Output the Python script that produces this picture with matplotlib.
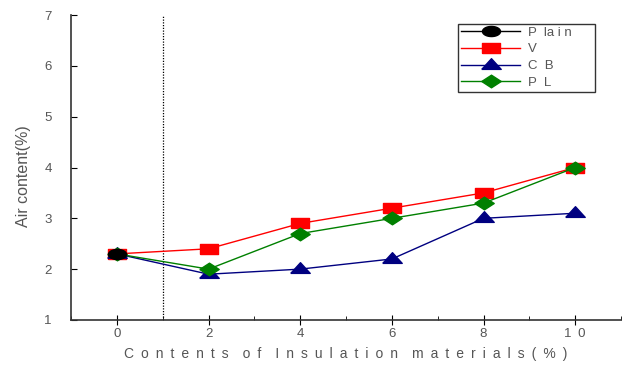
import matplotlib
matplotlib.use("Agg")
import matplotlib.pyplot as plt
import numpy as np
from matplotlib.path import Path
from matplotlib.ticker import MultipleLocator

plt.rcParams['font.family'] = ['Liberation Sans', 'DejaVu Sans']

x_plain = [0]
plain = [2.3]
x_series = [0, 2, 4, 6, 8, 10]
v = [2.3, 2.4, 2.9, 3.2, 3.5, 4.0]
cb = [2.3, 1.9, 2.0, 2.2, 3.0, 3.1]
pl = [2.3, 2.0, 2.7, 3.0, 3.3, 4.0]
xtick_labels = ["0", "2", "4", "6", "8", "1\u20020"]
yticks = [1, 2, 3, 4, 5, 6, 7]
legend_labels = ["P  la i n\u2002\u2002\u2002", "V", "C  B", "P  L"]


def spaced(text, gap="\u2002"):
    words = text.split(" ")
    return (gap * 2).join(gap.join(w) for w in words)


xlabel = spaced("Contents of Insulation materials(%)")

# horizontally stretched marker shapes
t = np.linspace(0, 2 * np.pi, 40)
ellipse = Path(np.column_stack([np.cos(t), 0.56 * np.sin(t)]))
rect = Path([(-1, -0.53), (1, -0.53), (1, 0.53), (-1, 0.53), (-1, -0.53)])
tri = Path([(-1, -0.4), (1, -0.4), (0, 0.7), (-1, -0.4)])
diam = Path([(-1, 0), (0, -0.65), (1, 0), (0, 0.65), (-1, 0)])

fig = plt.figure(figsize=(6.35, 3.69), dpi=100)
ax = fig.add_axes([0.112, 0.133, 0.866, 0.826])

h_v, = ax.plot(x_series, v, color="red", marker=rect, markersize=12.5, lw=1, zorder=3)
h_cb, = ax.plot(x_series, cb, color="navy", marker=tri, markersize=14, lw=1, zorder=3)
h_pl, = ax.plot(x_series, pl, color="green", marker=diam, markersize=14, lw=1, zorder=4)
h_p, = ax.plot(x_plain, plain, color="black", marker=ellipse, markersize=13, lw=1, zorder=5)

ax.axvline(1, color="black", lw=0.9, ls=(0, (1, 1.2)))

ax.set_xlim(-1, 11)
ax.set_ylim(1, 7)
ax.set_xticks(x_series)
ax.set_xticklabels(xtick_labels)
ax.xaxis.set_minor_locator(MultipleLocator(1))
ax.set_yticks(yticks)
ax.spines["top"].set_visible(False)
ax.spines["right"].set_visible(False)
for s in ("left", "bottom"):
    ax.spines[s].set_linewidth(1.2)
    ax.spines[s].set_color("#333333")
ax.tick_params(axis="x", which="major", direction="inout", length=7, labelsize=9.5,
               labelcolor="#555555", pad=2)
ax.tick_params(axis="x", which="minor", direction="in", length=3)
ax.tick_params(axis="y", direction="in", length=4, labelsize=9.5, labelcolor="#555555", pad=14)

ax.set_xlabel(xlabel, fontsize=10, color="#555555", labelpad=5)
ax.set_ylabel("Air content(%)", fontsize=11.5, color="#555555")
ax.yaxis.set_label_coords(-0.073, 0.472)

leg = ax.legend([h_p, h_v, h_cb, h_pl], legend_labels,
                loc="upper right", bbox_to_anchor=(0.952, 0.972), fontsize=9.5,
                frameon=True, fancybox=False, edgecolor="black", handlelength=4.5,
                labelspacing=0.35, borderpad=0.2, handletextpad=0.6, borderaxespad=0)
leg.get_frame().set_linewidth(1.0)
for tx in leg.get_texts():
    tx.set_color("#555555")

fig.savefig("out.png", dpi=100)
